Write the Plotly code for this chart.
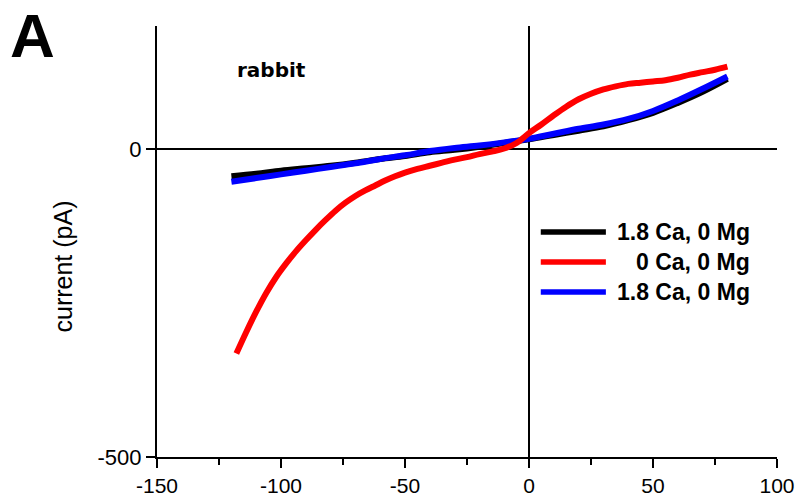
import plotly.graph_objects as go

# Membrane potential (mV) and whole-cell current (pA)
v_ca = [-120, -110, -100, -90, -80, -70, -60, -50, -40, -30, -20, -10,
        0, 10, 20, 30, 40, 50, 60, 70, 80]
i_ca_a = [-44, -40, -35, -31, -27, -22, -16, -11, -5, -1, 4, 10,
          16, 23, 30, 37, 47, 59, 75, 93, 114]
i_ca_b = [-53, -47, -41, -35, -29, -23, -16, -10, -3, 2, 6, 11,
          17, 25, 33, 40, 49, 62, 79, 98, 118]

v_noca = [-118, -114, -110, -106, -102, -98, -94, -90, -86, -82, -78,
          -74, -70, -66, -62, -58, -54, -50, -45, -40, -35, -30, -25,
          -20, -15, -10, -5, 0, 5, 10, 15, 20, 25, 30, 35, 40, 45, 50,
          55, 60, 65, 70, 75, 80]
i_noca = [-332, -297, -264, -234, -208, -186, -166, -148, -131, -115,
          -100, -87, -76, -67, -59, -51, -44, -38, -32, -27, -22, -17,
          -13, -8, -4, 1, 10, 26, 40, 55, 69, 81, 90, 97, 102, 106, 108,
          110, 112, 116, 121, 125, 129, 134]

series_names = ["1.8 Ca, 0 Mg", "0 Ca, 0 Mg", "1.8 Ca, 0 Mg"]
series_colors = ["#000000", "#ff0000", "#0000ff"]

x_tickvals = [-150, -100, -50, 0, 50, 100]
x_ticktext = ["-150", "-100", "-50", "0", "50", "100"]
y_tickvals = [-500, 0]
y_ticktext = ["-500", "0"]

FONT = "Liberation Sans, Arial, sans-serif"

fig = go.Figure()
line_w = 6
fig.add_trace(go.Scatter(x=v_ca, y=i_ca_a, mode="lines", name=series_names[0],
                         line=dict(color=series_colors[0], width=line_w, shape="spline")))
fig.add_trace(go.Scatter(x=v_ca, y=i_ca_b, mode="lines", name=series_names[2],
                         line=dict(color=series_colors[2], width=line_w, shape="spline")))
fig.add_trace(go.Scatter(x=v_noca, y=i_noca, mode="lines", name=series_names[1],
                         line=dict(color=series_colors[1], width=line_w, shape="spline")))

fig.update_layout(
    width=796, height=497,
    margin=dict(l=157, r=19, t=26, b=40),
    paper_bgcolor="white", plot_bgcolor="white",
    showlegend=False,
    font=dict(family=FONT, color="black"),
)

fig.update_xaxes(
    range=[-150, 100], showgrid=False, automargin=False,
    showline=True, linecolor="black", linewidth=2,
    zeroline=True, zerolinecolor="black", zerolinewidth=2,
    ticks="outside", ticklen=9, tickwidth=2, tickcolor="black",
    tickvals=x_tickvals, ticktext=x_ticktext,
    tickfont=dict(family=FONT, size=21, color="black"),
    minor=dict(dtick=25, tick0=-150, ticks="outside", ticklen=6,
               tickwidth=2, tickcolor="black", showgrid=False),
)
fig.update_yaxes(
    range=[-500, 200], showgrid=False, automargin=False,
    showline=True, linecolor="black", linewidth=2,
    zeroline=True, zerolinecolor="black", zerolinewidth=2,
    ticks="outside", ticklen=9, tickwidth=2, tickcolor="black",
    tickvals=y_tickvals, ticktext=y_ticktext,
    tickfont=dict(family=FONT, size=22, color="black"),
)

# Legend: long line swatches with right-aligned bold labels
legend_rows = [0.522, 0.4524, 0.3828]
for name, color, yr in zip(series_names, series_colors, legend_rows):
    fig.add_shape(type="line", xref="paper", yref="paper",
                  x0=0.619, x1=0.724, y0=yr, y1=yr,
                  line=dict(color=color, width=5.5))
    fig.add_annotation(xref="paper", yref="paper", x=0.9597, y=yr,
                       text=name, showarrow=False, xanchor="right", yanchor="middle",
                       font=dict(family=FONT, size=23, color="black", weight="bold"))

fig.add_annotation(xref="paper", yref="paper", x=0.1847, y=0.898,
                   text="rabbit", showarrow=False, xanchor="center", yanchor="middle",
                   font=dict(family="DejaVu Sans", size=20, color="black", weight="bold"))

# Panel letter, kept inside the page
fig.add_annotation(xref="paper", yref="paper", x=-0.238, y=1.0603,
                   text="A", showarrow=False, xanchor="left", yanchor="top",
                   borderpad=0,
                   font=dict(family=FONT, size=62, color="black", weight="bold"))

fig.add_annotation(xref="paper", yref="paper", x=-0.1516, y=0.442,
                   text="current (pA)", showarrow=False, textangle=-90,
                   xanchor="center", yanchor="middle",
                   font=dict(family=FONT, size=25, color="black"))

fig.write_html("out.html")
